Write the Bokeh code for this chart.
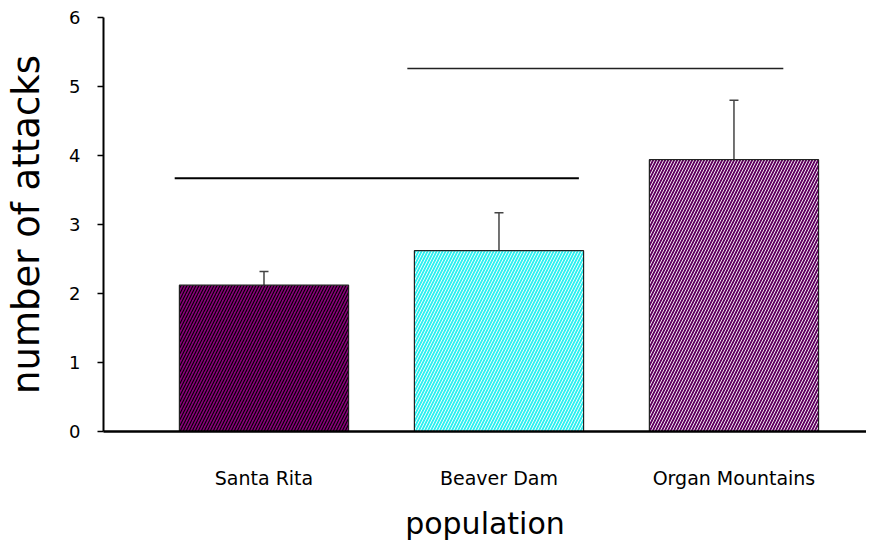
from bokeh.plotting import figure
from bokeh.models import ColumnDataSource, Whisker, FixedTicker, Range1d
from bokeh.embed import file_html
from bokeh.resources import INLINE

# data
populations = ["Santa Rita", "Beaver Dam", "Organ Mountains"]
positions = [1, 2, 3]
means = [2.12, 2.62, 3.94]
upper_err = [2.32, 3.17, 4.80]
fills = ["#880078", "#2ff0f0", "#600060"]
hatch_colors = ["#000000", "#ffffff", "#ffffff"]
hatch_weights = [1.1, 0.9, 0.9]
# significance bars (x start, x end, y)
sig_x0 = [0.62, 1.61]
sig_x1 = [2.34, 3.21]
sig_y = [3.67, 5.26]
y_ticks = [0, 1, 2, 3, 4, 5, 6]

FONT = "DejaVu Sans"

src = ColumnDataSource(dict(x=positions, top=means, upper=upper_err, fill=fills,
                            hc=hatch_colors, hw=hatch_weights, name=populations))

p = figure(width=866, height=543, output_backend="svg", toolbar_location=None,
           x_range=Range1d(0.317, 3.564), y_range=Range1d(0, 6),
           min_border_left=103, min_border_right=0, min_border_top=17, min_border_bottom=112)
p.outline_line_color = None
p.grid.visible = False
p.background_fill_color = "white"

p.vbar(x="x", top="top", bottom=0, width=0.72, source=src, fill_color="fill",
       line_color="#222222", line_width=1.2, hatch_pattern="/", hatch_color="hc",
       hatch_scale=6, hatch_weight="hw")

w = Whisker(base="x", upper="upper", lower="top", source=src, line_color="#444444",
            line_width=1.5, dimension="height")
w.upper_head.size = 9
w.upper_head.line_color = "#444444"
w.upper_head.line_width = 1.5
w.lower_head = None
p.add_layout(w)

p.segment(x0=sig_x0[:1], x1=sig_x1[:1], y0=sig_y[:1], y1=sig_y[:1], line_color="black", line_width=2)
p.segment(x0=sig_x0[1:], x1=sig_x1[1:], y0=sig_y[1:], y1=sig_y[1:], line_color="#222222", line_width=1.6)

# axes
xa = p.xaxis[0]
xa.ticker = FixedTicker(ticks=positions)
xa.major_label_overrides = {pos: name for pos, name in zip(positions, populations)}
xa.major_tick_out = 0
xa.major_tick_in = 0
xa.minor_tick_out = 0
xa.minor_tick_in = 0
xa.axis_line_width = 2.5
xa.axis_line_color = "black"
xa.major_label_standoff = 35
xa.major_label_text_font = FONT
xa.major_label_text_font_size = "19px"
xa.major_label_text_color = "black"
xa.axis_label = "population"
xa.axis_label_text_font = FONT
xa.axis_label_text_font_size = "30px"
xa.axis_label_text_font_style = "normal"
xa.axis_label_text_color = "black"
xa.axis_label_standoff = 14

ya = p.yaxis[0]
ya.ticker = FixedTicker(ticks=y_ticks)
ya.major_tick_out = 6
ya.major_tick_in = 0
ya.major_tick_line_width = 1.5
ya.minor_tick_out = 0
ya.minor_tick_in = 0
ya.axis_line_width = 2
ya.axis_line_color = "black"
ya.major_label_standoff = 17
ya.major_label_text_font = FONT
ya.major_label_text_font_size = "18px"
ya.major_label_text_color = "black"
ya.axis_label = "number of attacks"
ya.axis_label_text_font = FONT
ya.axis_label_text_font_size = "37px"
ya.axis_label_text_font_style = "normal"
ya.axis_label_text_color = "black"
ya.axis_label_standoff = 18

open("out.html", "w").write(file_html(p, INLINE))
